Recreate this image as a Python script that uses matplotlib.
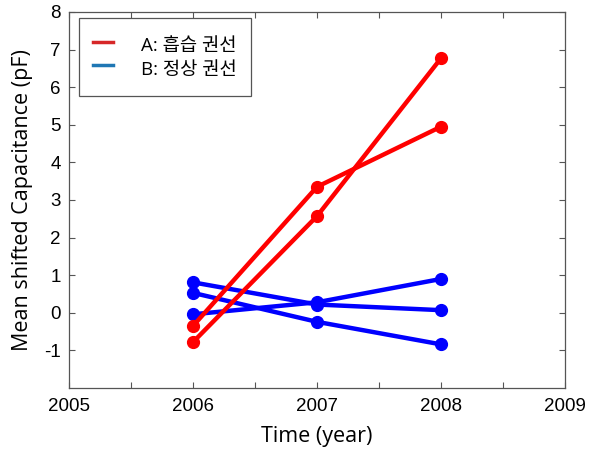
import matplotlib
matplotlib.use('Agg')
import matplotlib.pyplot as plt
from matplotlib.lines import Line2D

plt.rcParams['axes.unicode_minus'] = False

years = [2006, 2007, 2008]

# red: moisture-absorbed windings
red_series = [
    [-0.78, 2.57, 6.77],
    [-0.35, 3.35, 4.95],
]
# blue: normal windings
blue_series = [
    [0.81, 0.22, 0.07],
    [0.53, -0.24, -0.84],
    [-0.04, 0.28, 0.90],
]

legend_labels = ["A: 흡습 권선", "B: 정상 권선"]
legend_colors = ["#d62728", "#1f77b4"]

xticks = [2005, 2006, 2007, 2008, 2009]
yticks = [-1, 0, 1, 2, 3, 4, 5, 6, 7, 8]

fig = plt.figure(figsize=(5.96, 4.5), dpi=100)
ax = fig.add_axes([69 / 596, 1 - 388 / 450, (565 - 69) / 596, (388 - 12) / 450])

for s in red_series:
    ax.plot(years, s, color="#ff0000", lw=3.2, marker="o", ms=8.5, zorder=3)
for s in blue_series:
    ax.plot(years, s, color="#0000ff", lw=3.2, marker="o", ms=8.5, zorder=2)

ax.set_xlim(2005, 2009)
ax.set_ylim(-2, 8)
ax.set_xticks(xticks)
ax.set_xticks([2005.5, 2006.5, 2007.5, 2008.5], minor=True)
ax.set_yticks(yticks)
ax.tick_params(which="both", direction="in", top=True, right=True,
               length=4, width=0.8, color="#555555", labelsize=13.5)
ax.tick_params(axis="x", pad=7)
ax.tick_params(axis="y", pad=6)
for lab in ax.get_xticklabels() + ax.get_yticklabels():
    lab.set_family("Liberation Sans")
for sp in ax.spines.values():
    sp.set_color("#555555")
    sp.set_linewidth(0.9)

ax.set_xlabel("Time (year)", fontsize=15.5, family="Open Sans", labelpad=8)
ax.set_ylabel("Mean shifted Capacitance (pF)", fontsize=15.5, family="Open Sans", labelpad=8)

handles = [Line2D([0], [0], color=c, lw=2.5) for c in legend_colors]
leg = ax.legend(handles, legend_labels, loc="upper left",
                bbox_to_anchor=(10 / 496, 1 - 6 / 376), borderaxespad=0,
                fancybox=False, edgecolor="#555555", framealpha=1,
                handlelength=1.05, handleheight=1.75, handletextpad=1.5,
                borderpad=0.75, labelspacing=-0.12,
                prop={"family": ["Open Sans", "Noto Sans CJK KR"], "size": 13.5})
leg.get_frame().set_linewidth(0.9)

fig.savefig("out.png", dpi=100)
